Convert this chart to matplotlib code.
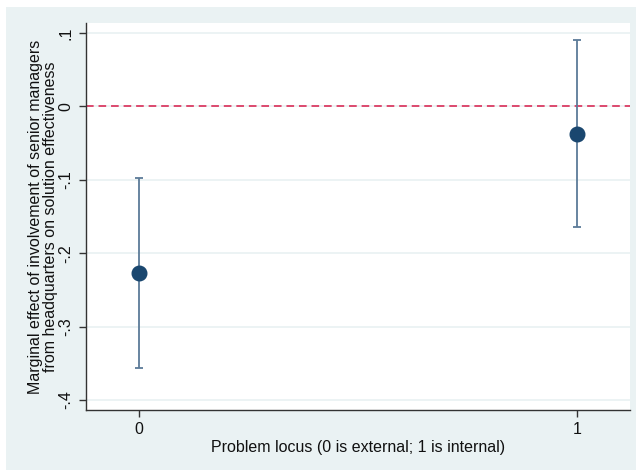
import numpy as np
import matplotlib.pyplot as plt
from matplotlib.patches import Rectangle

plt.rcParams['font.family'] = ['Liberation Sans', 'DejaVu Sans']

# dati
locus = [0, 1]
effetto = [-0.2268, -0.0372]
ci_basso = [-0.3560, -0.1647]
ci_alto = [-0.0976, 0.0903]
y_ticks = [-0.4, -0.3, -0.2, -0.1, 0, 0.1]
y_tick_labels = ['-.4', '-.3', '-.2', '-.1', '0', '.1']
x_ticks = [0, 1]

sfondo = '#EAF2F3'
blu = '#1A476F'

fig = plt.figure(figsize=(6.36, 4.70), dpi=100, facecolor='white')
fig.patches.append(Rectangle((6 / 636, 0), 1, (470 - 7) / 470, transform=fig.transFigure,
                             facecolor=sfondo, edgecolor='none', zorder=-10))
ax = fig.add_axes([86 / 636, 60 / 470, (630 - 86) / 636, (410 - 23) / 470])
ax.set_facecolor('white')

eff = np.array(effetto)
err = np.array([eff - np.array(ci_basso), np.array(ci_alto) - eff])

ax.axhline(0, color='#D81B4A', linestyle=(0, (5, 3.2)), linewidth=1.1, zorder=2)
ax.errorbar(locus, eff, yerr=err, fmt='none', ecolor='#5C7B98', elinewidth=1.3,
            capsize=3.2, capthick=1.3, zorder=3)
ax.plot(locus, eff, 'o', color=blu, markersize=10.5, zorder=4)

ax.set_xlim(-0.121, 1.121)
ax.set_ylim(-0.4136, 0.1136)
ax.set_yticks(y_ticks)
ax.set_yticklabels(y_tick_labels, rotation=90, va='center')
ax.set_xticks(x_ticks)
ax.set_xticklabels(['0', '1'])
ax.tick_params(axis='both', labelsize=11.5, length=5, width=1, color='#333333',
               labelcolor='#111111', pad=4)
ax.grid(axis='y', color=sfondo, linewidth=1.3)
ax.set_axisbelow(True)

for s in ['top', 'right']:
    ax.spines[s].set_visible(False)
for s in ['left', 'bottom']:
    ax.spines[s].set_color('#333333')
    ax.spines[s].set_linewidth(1.0)

ax.set_xlabel('Problem locus (0 is external; 1 is internal)', fontsize=11.5,
              color='#111111', labelpad=2)
ax.set_ylabel('Marginal effect of involvement of senior managers\n'
              'from headquarters on solution effectiveness', fontsize=11.5,
              color='#111111', labelpad=0, linespacing=1.0)

fig.savefig('out.png', dpi=100, facecolor=fig.get_facecolor())
